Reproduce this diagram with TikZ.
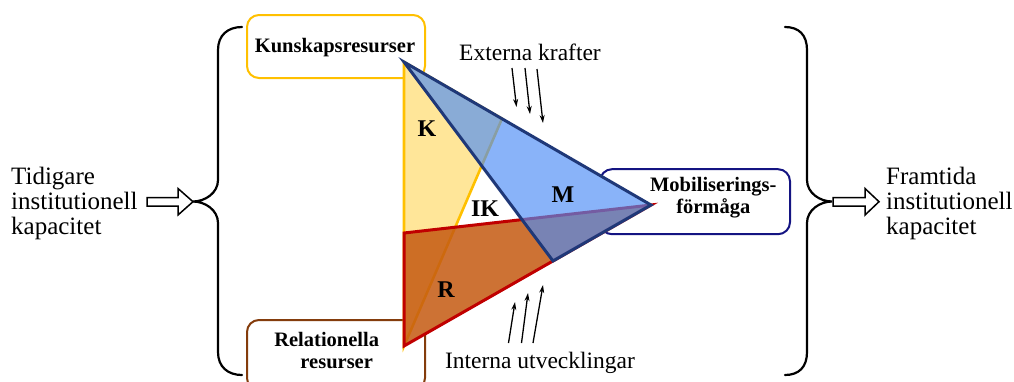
\documentclass[tikz,border=0pt]{standalone}
\usepackage{fontspec}
\setmainfont{Liberation Serif}
\usetikzlibrary{arrows.meta}
\definecolor{yfill}{RGB}{255,230,153}
\definecolor{yline}{RGB}{255,192,0}
\definecolor{rfill}{RGB}{197,90,17}
\definecolor{rline}{RGB}{192,0,0}
\definecolor{bfill}{RGB}{77,141,247}
\definecolor{bline}{RGB}{31,56,120}
\definecolor{kcol}{RGB}{255,192,0}
\definecolor{rcol}{RGB}{132,60,12}
\definecolor{mcol}{RGB}{20,20,130}
\tikzset{
  resbox/.style={draw, rounded corners=12pt, line width=2pt, fill=white, inner sep=0pt},
  boxlbl/.style={font=\fontsize{20.5}{20.5}\selectfont\bfseries, anchor=base, inner sep=0pt},
  tri/.style={font=\fontsize{24}{24}\selectfont\bfseries, inner sep=0pt},
  sidetxt/.style={font=\fontsize{25}{25}\selectfont, anchor=base west, inner sep=0pt},
  forcetxt/.style={font=\fontsize{23.5}{23.5}\selectfont, anchor=base, inner sep=0pt},
  thinarrow/.style={-{Stealth[length=8pt,width=5pt]}, line width=1.3pt},
  bracepath/.style={line width=2.2pt, line cap=round},
  hollow/.style={draw, line width=1.5pt, fill=white, line join=miter}
}
\begin{document}
\begin{tikzpicture}[x=1pt,y=-1pt]
\path[use as bounding box] (0,0) rectangle (1014,381);
\clip (0,0) rectangle (1014,381);

% boxes
\node[resbox, draw=kcol, minimum width=178pt, minimum height=63pt] (kbox) at (336,46.5) {};
\node[resbox, draw=rcol, minimum width=178pt, minimum height=70pt] (rbox) at (336,355) {};
\node[resbox, draw=mcol, minimum width=190pt, minimum height=65pt] (mbox) at (695,201.7) {};

% triangle corners
\coordinate (T) at (404,62);
\coordinate (Ybot) at (404,346);
\coordinate (Ymid) at (502,118.7);
\coordinate (Rtop) at (404,233);
\coordinate (Mtip) at (651,205);
\coordinate (Bbot) at (553,261);

% the triangles hide the boxes beneath them
\fill[white] (T) -- (Mtip) -- (Bbot) -- cycle;
\fill[white] (Rtop) -- (Mtip) -- (Ybot) -- cycle;

\draw[yline, fill=yfill, line width=2.6pt] (T) -- (Ymid) -- (Ybot) -- cycle;
\draw[rline, fill=rfill, fill opacity=0.85, line width=3pt] (Rtop) -- (Mtip) -- (Ybot) -- cycle;
\draw[bline, fill=bfill, fill opacity=0.66, line width=3pt] (T) -- (Mtip) -- (Bbot) -- cycle;

% box labels
\node[boxlbl] (kl) at (335,52.7) {Kunskapsresurser};
\node[boxlbl] (rl1) at (326.7,346.7) {Relationella};
\node[boxlbl] (rl2) at (336.7,368) {resurser};
\node[boxlbl] (ml1) at (713.3,191.7) {Mobiliserings-};
\node[boxlbl] (ml2) at (713.3,213.3) {förmåga};

% triangle labels
\node[tri] (lk) at (427,128.5) {K};
\node[tri] (lik) at (485,208.5) {IK};
\node[tri] (lm) at (563,195) {M};
\node[tri] (lr) at (446,290) {R};

% forces
\node[forcetxt] (ext) at (530,60) {Externa krafter};
\node[forcetxt] (int) at (540,368) {Interna utvecklingar};
\coordinate (e1s) at (512,68);   \coordinate (e1e) at (516.5,107);
\coordinate (e2s) at (525,68);   \coordinate (e2e) at (530,114);
\coordinate (e3s) at (537,69);   \coordinate (e3e) at (543,123);
\coordinate (i1s) at (508.5,343); \coordinate (i1e) at (515,302);
\coordinate (i2s) at (521.5,343); \coordinate (i2e) at (528,293);
\coordinate (i3s) at (533,343);   \coordinate (i3e) at (543,285);
\draw[thinarrow] (e1s) -- (e1e);
\draw[thinarrow] (e2s) -- (e2e);
\draw[thinarrow] (e3s) -- (e3e);
\draw[thinarrow] (i1s) -- (i1e);
\draw[thinarrow] (i2s) -- (i2e);
\draw[thinarrow] (i3s) -- (i3e);

% side texts
\node[sidetxt] (tl1) at (11,184) {Tidigare};
\node[sidetxt] (tl2) at (11,209) {institutionell};
\node[sidetxt] (tl3) at (11,234) {kapacitet};
\node[sidetxt] (tr1) at (886,184) {Framtida};
\node[sidetxt] (tr2) at (886,209) {institutionell};
\node[sidetxt] (tr3) at (886,234) {kapacitet};

% braces
\draw[bracepath] (242,27) .. controls (228,27) and (218,35) .. (218,50) -- (218,180)
  .. controls (218,193) and (205,201.5) .. (193,201.5)
  .. controls (205,201.5) and (218,210) .. (218,223) -- (218,352)
  .. controls (218,367) and (228,375) .. (242,375);
\draw[bracepath] (785,27) .. controls (799,27) and (807,35) .. (807,50) -- (807,180)
  .. controls (807,193) and (820,201.5) .. (832,201.5)
  .. controls (820,201.5) and (807,210) .. (807,223) -- (807,352)
  .. controls (807,367) and (799,375) .. (785,375);

% hollow arrows
\draw[hollow] (147,197.5) -- (178,197.5) -- (178,188.5) -- (193,201.7) -- (178,215) -- (178,206) -- (147,206) -- cycle;
\draw[hollow] (833,197.5) -- (865,197.5) -- (865,188.5) -- (879,201.7) -- (865,215) -- (865,206) -- (833,206) -- cycle;
\end{tikzpicture}
\end{document}
